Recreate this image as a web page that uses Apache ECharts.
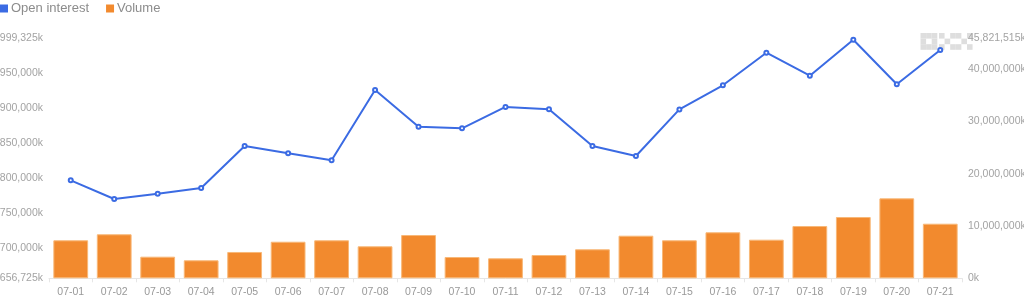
<!DOCTYPE html>
<html>
<head>
<meta charset="utf-8">
<script src="https://cdn.jsdelivr.net/npm/echarts@6/dist/echarts.min.js"></script>
<style>html,body{margin:0;padding:0;background:#fff}#c{width:1024px;height:296px}</style>
</head>
<body>
<div id="c"></div>
<script>
const categories = ['07-01','07-02','07-03','07-04','07-05','07-06','07-07','07-08','07-09','07-10','07-11','07-12','07-13','07-14','07-15','07-16','07-17','07-18','07-19','07-20','07-21'];
const openInterest = [796700,770000,777600,785700,845700,835300,825300,925700,873300,871000,901500,898200,845700,831500,898000,932500,979000,946200,997600,933900,982900];
const volume = [7260000,8410000,4130000,3440000,5030000,6990000,7260000,6110000,8270000,4070000,3820000,4450000,5540000,8140000,7260000,8790000,7380000,9990000,11710000,15273838,10430000];
const leftTicks = [656725,700000,750000,800000,850000,900000,950000,999325];
const rightTicks = [0,10000000,20000000,30000000,40000000,45821515];
const leftMin = 656725, leftMax = 999325;
const rightMin = 0, rightMax = 45821515;

const fmt = v => Math.round(v).toLocaleString('en-US') + 'k';
const chart = echarts.init(document.getElementById('c'), null, {renderer:'canvas'});

// OKX-like watermark built from small squares
const cell = 5.6, wx = 920.5, wy = 33;
const cells = [
  [0,0],[1,0],[2,0],[0,1],[2,1],[0,2],[1,2],[2,2],
  [3.3,0],[5.3,0],[4.3,1],[3.3,2],[5.3,2],
  [6.3,0],[8.3,0],[7.3,1],[6.3,2],[8.3,2]
];
const wm = cells.map(([cx,cy]) => ({type:'rect', shape:{x:wx+cx*cell, y:wy+cy*cell, width:cell, height:cell}, style:{fill:'#dedede'}, silent:true, z:-1}));

chart.setOption({
  animation:false,
  backgroundColor:'#fff',
  textStyle:{fontFamily:'Liberation Sans, Arial, sans-serif'},
  graphic: wm,
  legend:{
    left:0, top:2, padding:0, itemWidth:8, itemHeight:8, itemGap:17,
    textStyle:{color:'#8c8c8c', fontSize:13, padding:[0,0,0,-2]},
    itemStyle:{borderWidth:0},
    data:[{name:'Open interest', icon:'rect'},{name:'Volume', icon:'rect'}]
  },
  grid:{left:49, right:62, top:38.5, bottom:17.7, containLabel:false, outerBoundsMode:'none'},
  xAxis:{
    type:'category', data:categories,
    axisLine:{lineStyle:{color:'#e6e6e6'}},
    axisTick:{show:true, lineStyle:{color:'#e6e6e6'}, length:4},
    axisLabel:{color:'#999', fontSize:10.5, margin:8}
  },
  yAxis:[
    {type:'value', min:leftMin, max:leftMax, position:'left',
     splitLine:{show:false}, axisLine:{show:false}, axisTick:{show:false},
     axisLabel:{color:'#a3a3a3', fontSize:10.5, margin:6, formatter:fmt, customValues:leftTicks}},
    {type:'value', min:rightMin, max:rightMax, position:'right',
     splitLine:{show:false}, axisLine:{show:false}, axisTick:{show:false},
     axisLabel:{color:'#a3a3a3', fontSize:10.5, margin:6, formatter:fmt, customValues:rightTicks}}
  ],
  series:[
    {name:'Volume', type:'bar', yAxisIndex:1, data:volume, barCategoryGap:'20%',
     itemStyle:{color:'#F28A2E', borderColor:'#f8b878', borderWidth:1}, z:1},
    {name:'Open interest', type:'line', yAxisIndex:0, data:openInterest,
     symbol:'emptyCircle', symbolSize:4, showSymbol:true,
     lineStyle:{color:'#3B6BE3', width:2},
     itemStyle:{color:'#3B6BE3', borderWidth:1}, z:3}
  ],
  color:['#3B6BE3','#F28A2E']
});
</script>
</body>
</html>
